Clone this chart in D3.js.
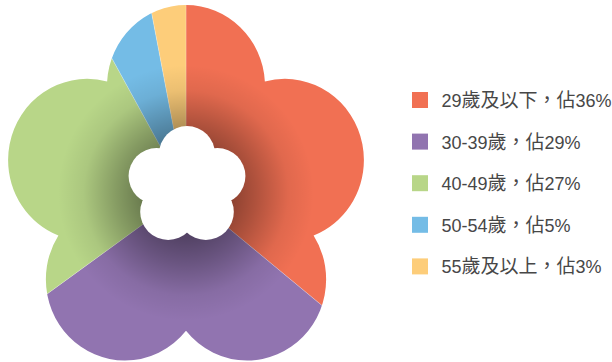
<!DOCTYPE html>
<html lang="zh-Hant-TW">
<head>
<meta charset="utf-8">
<script src="https://cdn.jsdelivr.net/npm/d3@7"></script>
<style>
  html, body { margin: 0; padding: 0; background: #ffffff; }
  svg { display: block; }
</style>
</head>
<body>
<div id="chart"></div>
<script>
// Age groups and their share of the total (percent)
const categories = ["29歲及以下", "30-39歲", "40-49歲", "50-54歲", "55歲及以上"];
const shares = [36, 29, 27, 5, 3];
const colors = ["#f17053", "#9174b0", "#b8d688", "#74bce6", "#fdcd7a"];

const W = 612, H = 362;
const svg = d3.select("#chart").append("svg")
  .attr("width", W).attr("height", H)
  .attr("lang", "zh-Hant-TW");

const cx = 186, cy = 193;
const defs = svg.append("defs");

// Five-petal flower: five circles on a pentagon plus the pentagon itself.
// Each shape carries its own transform so the set also works inside a clipPath.
function addFlower(parent, ox, oy, dist, rad, sy, fill) {
  const tf = `translate(${ox},${oy}) scale(1,${sy})`;
  const ang = d3.range(5).map(k => (-90 + 72 * k) * Math.PI / 180);
  const centers = ang.map(a => [dist * Math.cos(a), dist * Math.sin(a)]);
  parent.append("polygon")
    .attr("transform", tf)
    .attr("points", centers.map(p => p.join(",")).join(" "))
    .attr("fill", fill);
  centers.forEach(p => {
    parent.append("circle")
      .attr("transform", tf)
      .attr("cx", p[0]).attr("cy", p[1]).attr("r", rad)
      .attr("fill", fill);
  });
}

const clip = defs.append("clipPath").attr("id", "flowerClip");
addFlower(clip, cx, cy, 104, 79, 1.027, "#000");

// Darkening toward the centre of the flower
const grad = defs.append("radialGradient").attr("id", "shade")
  .attr("gradientUnits", "userSpaceOnUse")
  .attr("cx", cx).attr("cy", cy).attr("r", 128);
[[0, 0.5], [0.35, 0.42], [0.55, 0.27], [0.8, 0.07], [1, 0]].forEach(([o, a]) => {
  grad.append("stop").attr("offset", o).attr("stop-color", "#000").attr("stop-opacity", a);
});

const pie = d3.pie().sort(null).value(d => d)(shares);
const arc = d3.arc().innerRadius(0).outerRadius(260);

const body = svg.append("g").attr("clip-path", "url(#flowerClip)");
body.append("g").attr("transform", `translate(${cx},${cy})`)
  .selectAll("path").data(pie).join("path")
  .attr("d", arc)
  .attr("fill", (d, i) => colors[i])
  .attr("stroke", "rgba(255,255,255,0.35)")
  .attr("stroke-width", 0.6);
body.append("rect").attr("x", 0).attr("y", 0).attr("width", W).attr("height", H)
  .attr("fill", "url(#shade)");

// White flower-shaped hole in the middle
const hole = svg.append("g");
addFlower(hole, 187, 186, 32, 28, 1, "#ffffff");

// Legend
const latinSize = 18, cjkSize = 19;
const legend = svg.append("g").attr("transform", "translate(412,92)");
const rowStep = 41.6;
const rows = legend.selectAll("g").data(categories).join("g")
  .attr("transform", (d, i) => `translate(0,${i * rowStep})`);
rows.append("rect").attr("width", 16).attr("height", 16)
  .attr("fill", (d, i) => colors[i]);

// Split a string into runs of CJK and non-CJK characters
function runs(s) {
  return s.split(/([\u3000-\u9fff\uff00-\uffef]+)/).filter(p => p.length)
    .map(p => ({ s: p, cjk: /[\u3000-\u9fff\uff00-\uffef]/.test(p) }));
}

rows.each(function (d, i) {
  const text = d3.select(this).append("text")
    .attr("y", 15)
    .attr("lang", "zh-Hant-TW")
    .attr("font-family", "'Liberation Sans', 'Noto Sans CJK TC', sans-serif")
    .attr("fill", "#474747");
  let x = 29.5;
  const span = (s, cjk) => text.append("tspan")
    .attr("x", x)
    .attr("font-size", cjk ? cjkSize : latinSize)
    .text(s);
  const put = s => {
    runs(s).forEach(p => { x += span(p.s, p.cjk).node().getComputedTextLength(); });
  };
  put(d);
  // full-width comma centred in a full em cell
  const comma = span("，", true);
  const adv = comma.node().getComputedTextLength();
  comma.attr("x", x + (cjkSize - adv) / 2);
  x += cjkSize;
  put(`佔${shares[i]}%`);
});
</script>
</body>
</html>
